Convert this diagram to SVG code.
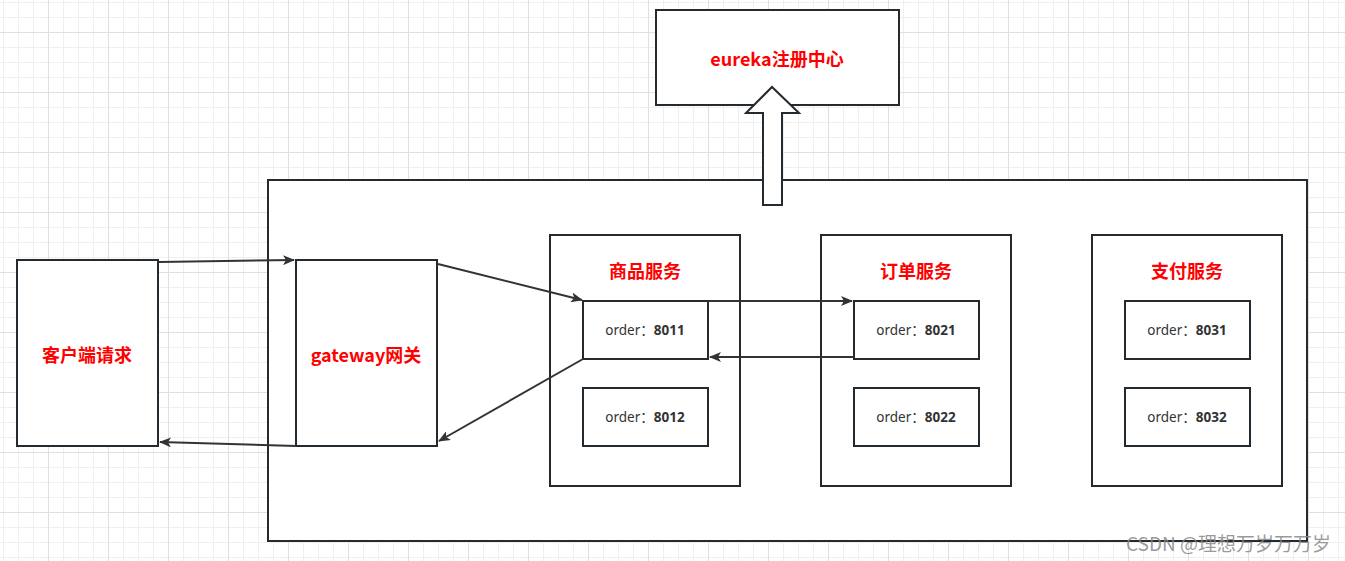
<svg xmlns="http://www.w3.org/2000/svg" width="1345" height="561" viewBox="0 0 1345 561">
<defs>
<pattern id="grid" patternUnits="userSpaceOnUse" x="3" y="2" width="60" height="60">
<rect width="60" height="60" fill="#ffffff"/>
<rect x="0" y="0" width="1" height="60" fill="#efefef"/>
<rect x="15" y="0" width="1" height="60" fill="#efefef"/>
<rect x="30" y="0" width="1" height="60" fill="#efefef"/>
<rect x="0" y="0" width="60" height="1" fill="#efefef"/>
<rect x="0" y="15" width="60" height="1" fill="#efefef"/>
<rect x="0" y="45" width="60" height="1" fill="#efefef"/>
<rect x="45" y="0" width="1" height="60" fill="#e0e0e0"/>
<rect x="0" y="30" width="60" height="1" fill="#e0e0e0"/>
</pattern>
<marker id="ah" viewBox="0 0 12 10" refX="11" refY="5" markerWidth="12" markerHeight="10" markerUnits="userSpaceOnUse" orient="auto">
<path d="M0,0 L12,5 L0,10 L3,5 Z" fill="#333333"/>
</marker>
<style>
.box{fill:#ffffff;stroke:#232a30;stroke-width:2}
.title{font-family:"Noto Sans CJK SC","Noto Sans",sans-serif;font-weight:bold;font-size:18px;fill:#ff0000;text-anchor:middle;dominant-baseline:central}
.ord{font-family:"Noto Sans","Noto Sans CJK SC",sans-serif;font-size:13.5px;fill:#333333;text-anchor:middle;dominant-baseline:central}
.ord tspan.b{font-weight:bold}
.conn{fill:none;stroke:#333333;stroke-width:2;marker-end:url(#ah)}
</style>
</defs>
<rect width="1345" height="561" fill="url(#grid)"/>

<g id="container"><rect class="box" x="268" y="180" width="1039" height="361"/></g>

<g id="eureka">
<rect class="box" x="656" y="10" width="243" height="95"/>
<text class="title" x="777" y="58">eureka注册中心</text>
</g>
<g id="register-arrow">
<polygon class="box" points="763,205 763,113 746,113 772,87 799,113 782,113 782,205"/>
</g>

<g id="client">
<rect class="box" x="17" y="260" width="141" height="186"/>
<text class="title" x="87" y="354">客户端请求</text>
</g>
<g id="gateway">
<rect class="box" x="296" y="260" width="141" height="186"/>
<text class="title" x="366" y="354">gateway网关</text>
</g>

<g id="goods">
<rect class="box" x="550" y="235" width="190" height="251"/>
<text class="title" x="645" y="270">商品服务</text>
</g>
<g id="order">
<rect class="box" x="821" y="235" width="190" height="251"/>
<text class="title" x="916" y="270">订单服务</text>
</g>
<g id="pay">
<rect class="box" x="1092" y="235" width="190" height="251"/>
<text class="title" x="1187" y="270">支付服务</text>
</g>

<g id="n8011"><rect class="box" x="583" y="301" width="125" height="58"/><text class="ord" x="645" y="330">order：<tspan class="b">8011</tspan></text></g>
<g id="n8012"><rect class="box" x="583" y="388" width="125" height="58"/><text class="ord" x="645" y="417">order：<tspan class="b">8012</tspan></text></g>
<g id="n8021"><rect class="box" x="854" y="301" width="125" height="58"/><text class="ord" x="916" y="330">order：<tspan class="b">8021</tspan></text></g>
<g id="n8022"><rect class="box" x="854" y="388" width="125" height="58"/><text class="ord" x="916" y="417">order：<tspan class="b">8022</tspan></text></g>
<g id="n8031"><rect class="box" x="1125" y="301" width="125" height="58"/><text class="ord" x="1187" y="330">order：<tspan class="b">8031</tspan></text></g>
<g id="n8032"><rect class="box" x="1125" y="388" width="125" height="58"/><text class="ord" x="1187" y="417">order：<tspan class="b">8032</tspan></text></g>

<g id="connectors">
<line class="conn" x1="159" y1="262" x2="294" y2="260"/>
<line class="conn" x1="296" y1="446" x2="160" y2="442"/>
<line class="conn" x1="438" y1="264" x2="582" y2="300"/>
<line class="conn" x1="583" y1="359" x2="439" y2="441"/>
<line class="conn" x1="708" y1="301" x2="852" y2="301"/>
<line class="conn" x1="854" y1="357" x2="710" y2="357"/>
</g>

<text x="1331" y="542" font-family="Noto Sans CJK SC, Noto Sans, sans-serif" font-size="19" fill="#888888" fill-opacity="0.85" text-anchor="end" dominant-baseline="central">CSDN @理想万岁万万岁</text>
</svg>
